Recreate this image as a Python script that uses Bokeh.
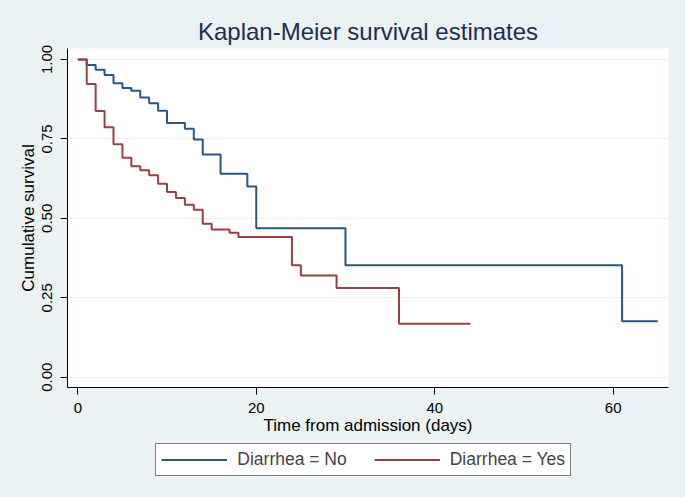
from bokeh.plotting import figure
from bokeh.layouts import column
from bokeh.models import (Range1d, FixedTicker, PrintfTickFormatter, Legend, LegendItem,
                          GlobalInlineStyleSheet)
from bokeh.embed import file_html
from bokeh.resources import INLINE

# Kaplan-Meier step data
no_time = [0, 1, 2, 3, 4, 5, 6, 7, 8, 9, 10, 12, 13, 14, 16, 19, 20, 30, 61, 65]
no_surv = [1.0, 0.983, 0.968, 0.951, 0.925, 0.910, 0.902, 0.880, 0.862, 0.839, 0.800,
           0.782, 0.748, 0.701, 0.640, 0.600, 0.469, 0.352, 0.176, 0.176]

yes_time = [0, 1, 2, 3, 4, 5, 6, 7, 8, 9, 10, 11, 12, 13, 14, 15, 17, 18, 24, 25, 29, 36, 44]
yes_surv = [1.0, 0.923, 0.838, 0.787, 0.733, 0.691, 0.664, 0.651, 0.636, 0.609, 0.583,
            0.564, 0.543, 0.527, 0.483, 0.465, 0.455, 0.441, 0.352, 0.320, 0.281, 0.168, 0.168]

x_ticks = [0, 20, 40, 60]
y_ticks = [0.0, 0.25, 0.5, 0.75, 1.0]
labels = ["Diarrhea = No", "Diarrhea = Yes"]

BG = "#EAF2F3"
FONT = "Liberation Sans"
C_NO = "#2A5683"
C_YES = "#983E45"

p = figure(width=685, height=440, output_backend="svg", toolbar_location=None,
           x_range=Range1d(-1.154, 66.20), y_range=Range1d(-0.0324, 1.0346),
           min_border_left=67, min_border_right=17, min_border_top=48, min_border_bottom=53,
           title="Kaplan-Meier survival estimates")

p.background_fill_color = "white"
p.border_fill_color = BG
p.outline_line_color = None

p.title.text_font = FONT
p.title.text_font_size = "24px"
p.title.text_font_style = "normal"
p.title.text_color = "#1E2D53"
p.title.align = "center"
p.title.standoff = 8

r_no = p.step(no_time, no_surv, mode="after", line_color=C_NO, line_width=2)
r_yes = p.step(yes_time, yes_surv, mode="after", line_color=C_YES, line_width=2)

p.xgrid.visible = False
p.ygrid.grid_line_color = BG
p.ygrid.grid_line_width = 1
p.ygrid.ticker = FixedTicker(ticks=y_ticks)

for ax in (p.xaxis[0], p.yaxis[0]):
    ax.axis_line_color = "black"
    ax.axis_line_width = 1
    ax.major_tick_line_color = "black"
    ax.major_tick_out = 7
    ax.major_tick_in = 0
    ax.minor_tick_line_color = None
    ax.major_label_text_font = FONT
    ax.major_label_text_font_size = "15px"
    ax.major_label_text_color = "black"
    ax.axis_label_text_font = FONT
    ax.axis_label_text_font_size = "17px"
    ax.axis_label_text_font_style = "normal"
    ax.axis_label_text_color = "black"

xa = p.xaxis[0]
xa.ticker = FixedTicker(ticks=x_ticks)
xa.axis_label = "Time from admission (days)"
xa.major_label_standoff = 8
xa.axis_label_standoff = 0

ya = p.yaxis[0]
ya.ticker = FixedTicker(ticks=y_ticks)
ya.formatter = PrintfTickFormatter(format="%.2f")
ya.major_label_orientation = "vertical"
ya.axis_label = "Cumulative survival"
ya.major_label_standoff = 8
ya.axis_label_standoff = 2

# legend strip below the plot (its sample lines lie outside its own view)
p2 = figure(width=685, height=57, output_backend="svg", toolbar_location=None,
            x_axis_location=None, y_axis_location=None,
            x_range=Range1d(-200, -100), y_range=Range1d(-200, -100),
            min_border_left=67, min_border_right=17, min_border_top=0, min_border_bottom=0)
p2.background_fill_color = BG
p2.border_fill_color = BG
p2.outline_line_color = None
p2.grid.visible = False
l_no = p2.step(no_time, no_surv, mode="after", line_color=C_NO, line_width=2)
l_yes = p2.step(yes_time, yes_surv, mode="after", line_color=C_YES, line_width=2)

legend = Legend(items=[LegendItem(label=labels[0], renderers=[l_no]),
                       LegendItem(label=labels[1], renderers=[l_yes])],
                orientation="horizontal", location=(88.3, 21),
                border_line_color="black", border_line_width=1,
                background_fill_color="white", background_fill_alpha=1,
                label_text_font=FONT, label_text_font_size="17.5px",
                glyph_width=66, glyph_height=17, label_height=17, label_standoff=10,
                spacing=27, padding=5, margin=0)
legend.padding = 5
p2.add_layout(legend, "center")

layout = column(p, p2, spacing=0)
layout.stylesheets = [GlobalInlineStyleSheet(css="html, body { background-color: %s; }" % BG)]

open("out.html", "w").write(file_html(layout, INLINE))
